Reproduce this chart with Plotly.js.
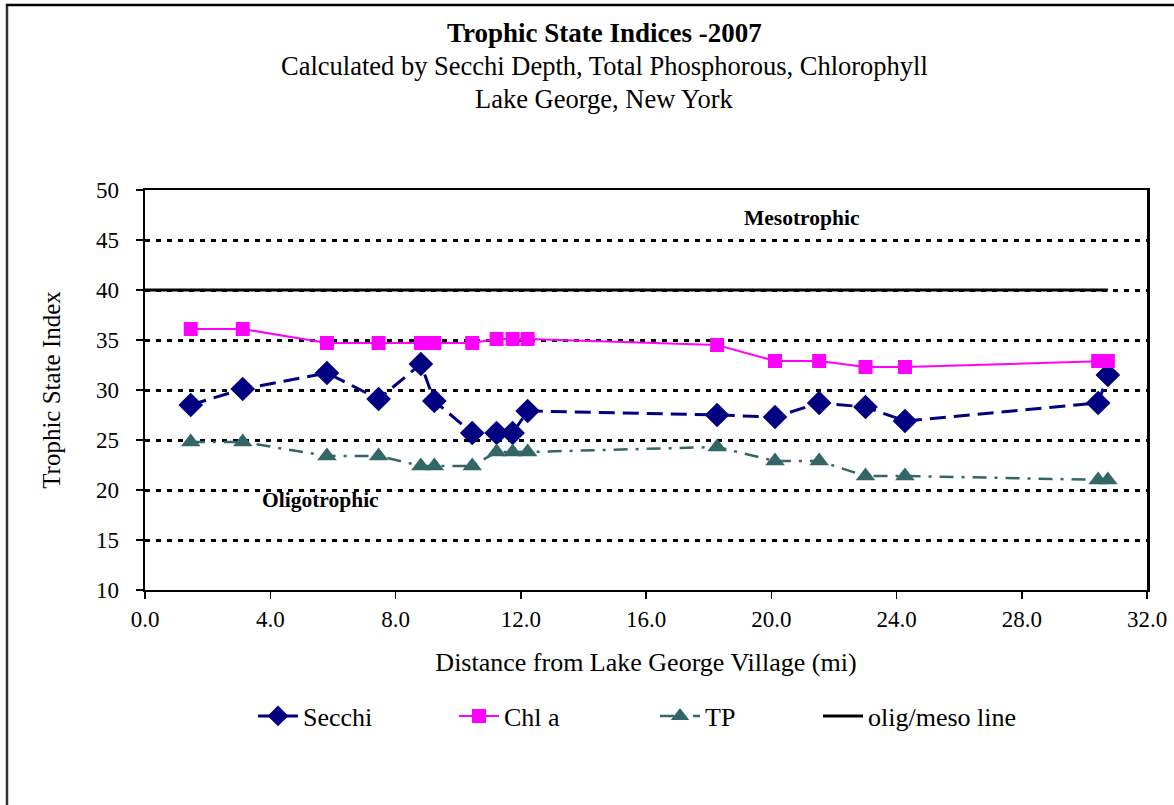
<!DOCTYPE html>
<html>
<head>
<meta charset="utf-8">
<script src="https://cdn.plot.ly/plotly-3.0.1.min.js"></script>
<style>
  html, body { margin: 0; padding: 0; background: #fff; }
  #chart { width: 1174px; height: 805px; }
</style>
</head>
<body>
<div id="chart"></div>
<script>
// Distance from Lake George Village (mi) for each sampling site
const distance = [1.46, 3.12, 5.81, 7.46, 8.81, 9.24, 10.45, 11.23, 11.74, 12.22, 18.27, 20.12, 21.53, 23.01, 24.27, 30.44, 30.75];
// Trophic State Index values
const secchi = [28.5, 30.1, 31.7, 29.1, 32.6, 28.9, 25.7, 25.7, 25.7, 27.9, 27.5, 27.3, 28.7, 28.3, 26.9, 28.7, 31.5];
const chla   = [36.1, 36.1, 34.7, 34.7, 34.7, 34.7, 34.7, 35.1, 35.1, 35.1, 34.5, 32.9, 32.9, 32.3, 32.3, 32.9, 32.9];
const tp     = [24.8, 24.8, 23.4, 23.4, 22.4, 22.4, 22.4, 23.8, 23.8, 23.8, 24.3, 22.9, 22.9, 21.4, 21.4, 21.0, 21.0];
// olig/meso boundary line
const boundaryX = [0, 30.75];
const boundaryY = [40, 40];

const titleLines = [
  "<b>Trophic State Indices -2007</b>",
  "Calculated by Secchi Depth, Total Phosphorous, Chlorophyll",
  "Lake George, New York"
];
const xTickVals = [0, 4, 8, 12, 16, 20, 24, 28, 32];
const yTickVals = [10, 15, 20, 25, 30, 35, 40, 45, 50];

const FONT = "Liberation Serif, Times New Roman, serif";

const traces = [
  {
    x: distance, y: secchi, name: "Secchi", type: "scatter", mode: "lines+markers", legend: "legend",
    line: { color: "#000080", width: 3, dash: "16px,8px" },
    marker: { symbol: "diamond", size: 19, color: "#000080" }
  },
  {
    x: distance, y: chla, name: "Chl a", type: "scatter", mode: "lines+markers", legend: "legend",
    line: { color: "#FF00FF", width: 2 },
    marker: { symbol: "square", size: 14, color: "#FF00FF" }
  },
  {
    x: distance, y: tp, name: "TP", type: "scatter", mode: "lines+markers", legend: "legend",
    line: { color: "#336666", width: 2.5, dash: "14px,8px,3px,8px" },
    marker: { symbol: "triangle-up", size: 17, color: "#336666" }
  },
  {
    x: boundaryX, y: boundaryY, name: "olig/meso line", type: "scatter", mode: "lines", legend: "legend2",
    line: { color: "#000000", width: 3 }
  }
];

const L = 145, R = 1147, T = 190, B = 590;
const W = R - L, H = B - T;
const px = v => (v - L) / W;
const py = v => (B - v) / H;

const annotations = [
  { text: titleLines[0], x: px(604), y: py(33), font: { size: 27 } },
  { text: titleLines[1], x: px(604), y: py(66), font: { size: 26.5 } },
  { text: titleLines[2], x: px(604), y: py(99), font: { size: 26.5 } }
].map(a => Object.assign({ xref: "paper", yref: "paper", showarrow: false, xanchor: "center", yanchor: "middle" }, a, { font: Object.assign({ family: FONT, color: "#000" }, a.font) }));

annotations.push(
  { text: "<b>Mesotrophic</b>", x: 20.95, y: 47.2, xref: "x", yref: "y", showarrow: false,
    font: { family: FONT, size: 21.5, color: "#000" } },
  { text: "<b>Oligotrophic</b>", x: 5.62, y: 19.0, xref: "x", yref: "y", showarrow: false,
    font: { family: FONT, size: 21.5, color: "#000" } }
);

const legendBase = {
  orientation: "h", xanchor: "left", y: py(716), yanchor: "middle",
  font: { family: FONT, size: 26, color: "#000" }, itemwidth: 40,
  bgcolor: "rgba(0,0,0,0)", traceorder: "normal"
};

const layout = {
  width: 1174, height: 805,
  margin: { l: L, r: 1174 - R, t: T, b: 805 - B, pad: 0 },
  paper_bgcolor: "#fff", plot_bgcolor: "#fff",
  font: { family: FONT, color: "#000", size: 23 },
  showlegend: true,
  legend: Object.assign({}, legendBase, { x: px(253), entrywidth: 146, entrywidthmode: "pixels" }),
  legend2: Object.assign({}, legendBase, { x: px(818) }),
  xaxis: {
    range: [0, 32], tickvals: xTickVals, tickformat: ".1f",
    showgrid: false, zeroline: false,
    showline: true, linecolor: "#000", linewidth: 2, mirror: true,
    ticks: "outside", ticklen: 7, tickcolor: "#000", tickwidth: 1.5,
    tickfont: { family: FONT, size: 23, color: "#000" },
    title: { text: "Distance from Lake George Village (mi)", font: { family: FONT, size: 26, color: "#000" }, standoff: 22 }
  },
  yaxis: {
    range: [10, 50], tickvals: yTickVals,
    showgrid: true, gridcolor: "#000", gridwidth: 3, griddash: "5px,6px",
    zeroline: false,
    showline: true, linecolor: "#000", linewidth: 2.5, mirror: true,
    ticks: "outside", ticklen: 7, tickcolor: "#000", tickwidth: 1.5,
    ticklabelstandoff: 12,
    tickfont: { family: FONT, size: 23, color: "#000" },
    title: { text: "Trophic State Index", font: { family: FONT, size: 25, color: "#000" }, standoff: 28 }
  },
  annotations: annotations,
  shapes: [
    { type: "line", xref: "paper", yref: "paper", x0: px(7), x1: px(7), y0: py(4), y1: py(806),
      line: { color: "#333", width: 2.5 } },
    { type: "line", xref: "paper", yref: "paper", x0: px(6), x1: px(1176), y0: py(5), y1: py(5),
      line: { color: "#000", width: 2.5 } }
  ]
};

Plotly.newPlot("chart", traces, layout, { displayModeBar: false, staticPlot: true });
</script>
</body>
</html>
